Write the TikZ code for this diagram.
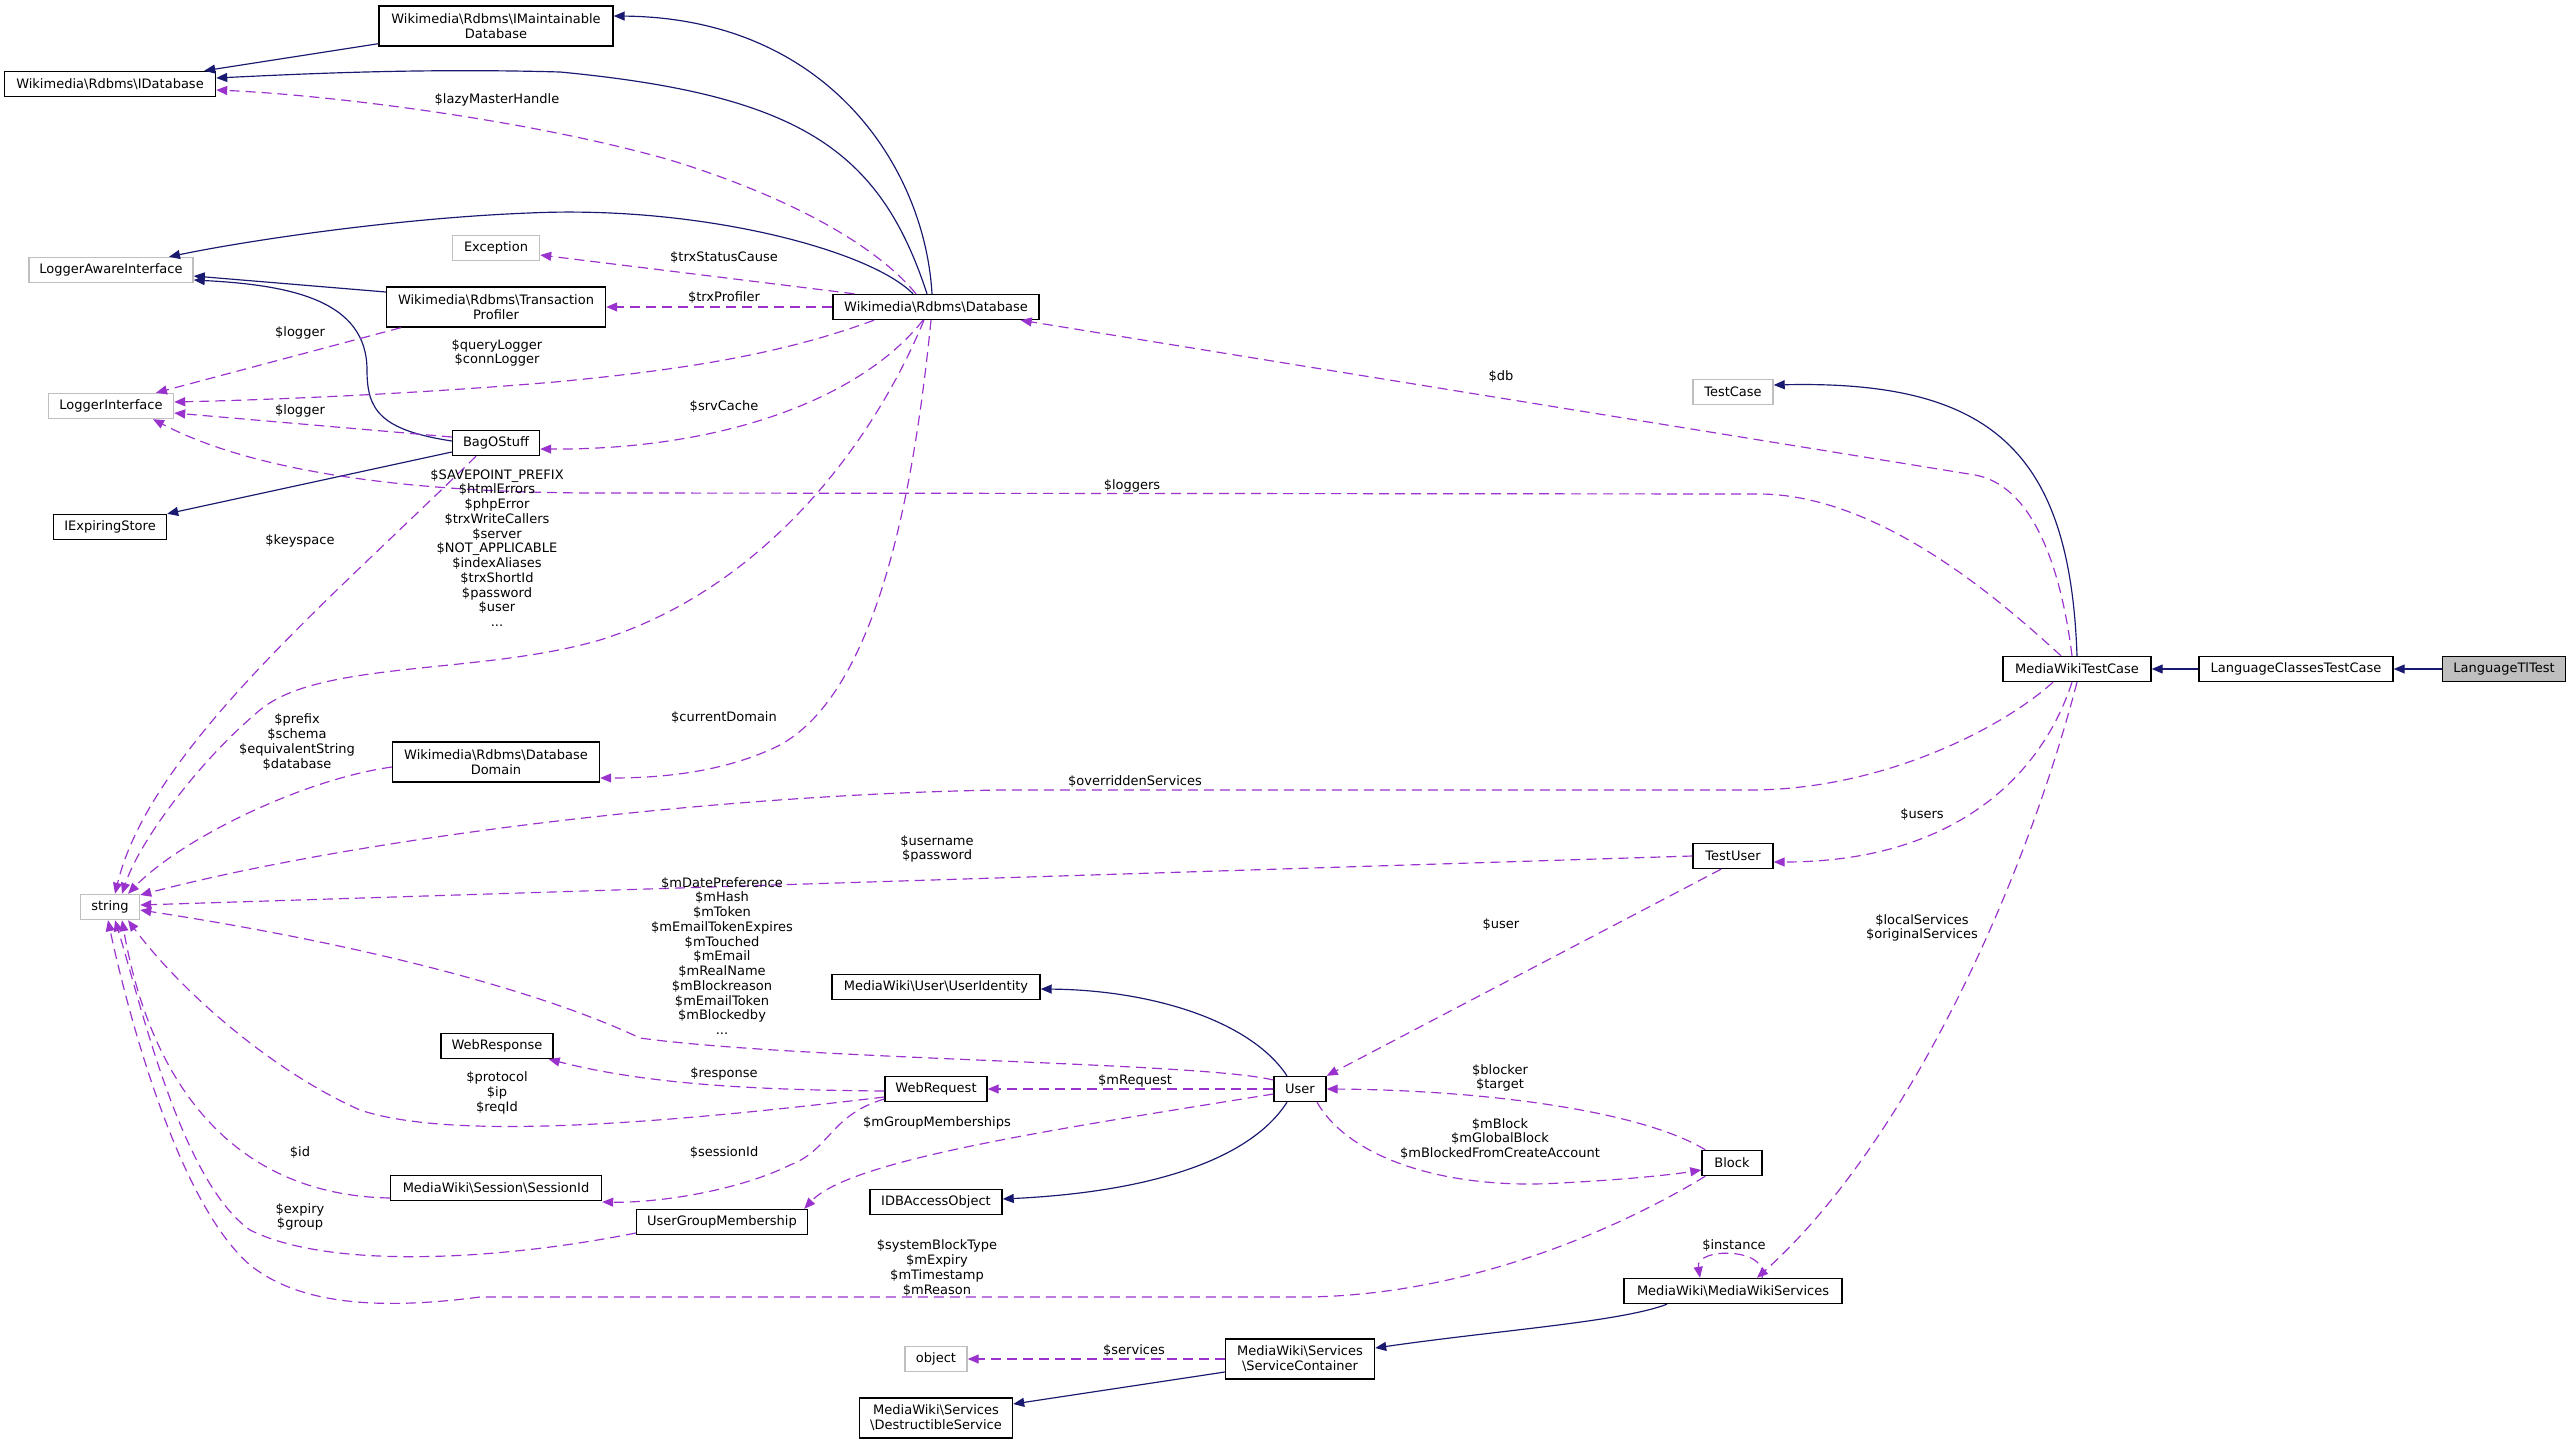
\documentclass[tikz,border=0pt]{standalone}
\usepackage{fontspec}
\setmainfont{DejaVu Sans}
\usetikzlibrary{arrows.meta}
\definecolor{inhblue}{HTML}{191970}
\definecolor{depviolet}{HTML}{9A32CD}
\definecolor{extgray}{HTML}{BFBFBF}
\newcommand{\bsl}{\textbackslash}

\begin{document}
\begin{tikzpicture}[x=0.3mm, y=-0.3mm,
    font=\fontsize{11.1}{12.6}\selectfont,
    cls/.style={draw=black, line width=1.2pt, fill=white, align=center,
      inner xsep=1mm, inner ysep=0pt, minimum height=7.5mm},
    clstwo/.style={cls, minimum height=12mm},
    ext/.style={cls, draw=extgray},
    cur/.style={cls, fill=extgray},
    inh/.style={-{Triangle[length=3.3mm, width=2.7mm]}, line width=1pt, draw=inhblue},
    dep/.style={-{Triangle[length=3.3mm, width=2.7mm]}, line width=1pt, draw=depviolet,
      dash pattern=on 3mm off 1.8mm},
    lab/.style={inner sep=0pt, align=center}]

  \fill[white] (0,0) rectangle (2571,1444);
  \useasboundingbox (0,0) rectangle (2571,1444);

% ---------------- classes (centres in pixels of the full drawing)
  \node[clstwo, minimum width=70.2mm] (imdb) at (496,26) {Wikimedia\bsl Rdbms\bsl IMaintainable\\Database};
  \node[cls, minimum width=63.3mm] (idb) at (110,84) {Wikimedia\bsl Rdbms\bsl IDatabase};
  \node[ext, minimum width=49.2mm] (lai) at (111,270) {LoggerAwareInterface};
  \node[ext, minimum width=26.1mm] (exc) at (496,248) {Exception};
  \node[clstwo, minimum width=65.7mm] (trxp) at (496,307) {Wikimedia\bsl Rdbms\bsl Transaction\\Profiler};
  \node[cls, minimum width=61.8mm] (dbase) at (936,307) {Wikimedia\bsl Rdbms\bsl Database};
  \node[ext, minimum width=37.5mm] (logi) at (111,406) {LoggerInterface};
  \node[cls, minimum width=26.1mm] (bag) at (496,443) {BagOStuff};
  \node[cls, minimum width=33.9mm] (iexp) at (110,527) {IExpiringStore};
  \node[clstwo, minimum width=62.1mm] (ddom) at (496,762) {Wikimedia\bsl Rdbms\bsl Database\\Domain};
  \node[ext, minimum width=17.7mm] (str) at (110,907) {string};
  \node[ext, minimum width=24mm] (tcase) at (1733,392) {TestCase};
  \node[cls, minimum width=44.4mm] (mwtc) at (2077,669) {MediaWikiTestCase};
  \node[cls, minimum width=58.2mm] (lctc) at (2296,669) {LanguageClassesTestCase};
  \node[cur, minimum width=36.9mm] (ltl) at (2504,669) {LanguageTlTest};
  \node[cls, minimum width=24mm] (tuser) at (1733,856) {TestUser};
  \node[cls, minimum width=62.4mm] (uid) at (936,987) {MediaWiki\bsl User\bsl UserIdentity};
  \node[cls, minimum width=15.6mm] (user) at (1300,1089) {User};
  \node[cls, minimum width=30.6mm] (wreq) at (936,1089) {WebRequest};
  \node[cls, minimum width=33.6mm] (wresp) at (497,1046) {WebResponse};
  \node[cls, minimum width=63.3mm] (sid) at (496,1188) {MediaWiki\bsl Session\bsl SessionId};
  \node[cls, minimum width=51.3mm] (ugm) at (722,1222) {UserGroupMembership};
  \node[cls, minimum width=39.6mm] (idba) at (936,1202) {IDBAccessObject};
  \node[cls, minimum width=18mm] (block) at (1732,1163) {Block};
  \node[cls, minimum width=65.4mm] (mws) at (1733,1291) {MediaWiki\bsl MediaWikiServices};
  \node[clstwo, minimum width=44.7mm] (scont) at (1300,1359) {MediaWiki\bsl Services\\\bsl ServiceContainer};
  \node[ext, minimum width=18.6mm] (obj) at (936,1359) {object};
  \node[clstwo, minimum width=45.9mm] (dserv) at (936,1418) {MediaWiki\bsl Services\\\bsl DestructibleService};

% ---------------- inheritance, solid
  \draw[inh] ([yshift=0.9mm]imdb.south west) -- ([xshift=-3.6mm]idb.north east);
  \draw[inh] ([xshift=-1.2mm]dbase.north) .. controls (925,170) and (830,18) .. ([yshift=3mm]imdb.east);
  \draw[inh] ([xshift=-2.7mm]dbase.north) .. controls (880,150) and (800,95) .. (560,72)
    .. controls (420,68) and (300,74) .. ([yshift=1.8mm]idb.east);
  \draw[inh] ([xshift=-6.9mm]dbase.north) .. controls (870,250) and (700,205) .. (529,213)
    .. controls (400,218) and (250,240) .. ([xshift=17.4mm]lai.north);
  \draw[inh] ([yshift=4.5mm]trxp.west) -- ([yshift=-1.8mm]lai.east);
  \draw[inh] ([yshift=0.6mm]bag.west) .. controls (380,430) and (367,410) .. (367,370)
    .. controls (367,300) and (290,285) .. ([yshift=-3mm]lai.east);
  \draw[inh] ([yshift=-2.7mm]bag.west) -- (iexp.north east);
  \draw[inh] (mwtc.north) .. controls (2070,450) and (1990,380) .. ([yshift=2.1mm]tcase.east);
  \draw[inh] (lctc.west) -- (mwtc.east);
  \draw[inh] (ltl.west) -- (lctc.east);
  \draw[inh] ([xshift=-3.9mm]user.north) .. controls (1250,1020) and (1150,990) .. ([yshift=-0.6mm]uid.east);
  \draw[inh] ([xshift=-3.9mm]user.south) .. controls (1250,1160) and (1150,1192) .. ([yshift=0.9mm]idba.east);
  \draw[inh] ([xshift=-19.8mm]mws.south) .. controls (1620,1322) and (1500,1330) .. ([yshift=3.3mm]scont.east);
  \draw[inh] ([yshift=-3.9mm]scont.west) -- ([yshift=4.2mm]dserv.east);

% ---------------- members, dashed
  \draw[dep] ([xshift=-6mm]dbase.north) .. controls (880,250) and (800,200) .. (670,160)
    .. controls (530,120) and (330,95) .. ([yshift=-1.8mm]idb.east);
  \draw[dep] ([xshift=6.6mm]dbase.north west) -- ([yshift=-2.1mm]exc.east);
  \draw[dep] (dbase.west) -- (trxp.east);
  \draw[dep] ([xshift=4.5mm]trxp.south west) -- ([xshift=13.5mm]logi.north);
  \draw[dep] ([xshift=-18.6mm]dbase.south) .. controls (780,355) and (680,370) .. (555,382)
    .. controls (400,395) and (260,400) .. ([yshift=1.2mm]logi.east);
  \draw[dep] ([yshift=1.8mm]bag.west) -- ([yshift=-2.1mm]logi.east);
  \draw[dep] ([xshift=-3.9mm]dbase.south) .. controls (860,400) and (720,450) .. ([yshift=-1.8mm]bag.east);
  \draw[dep] ([xshift=-4.8mm]mwtc.north) .. controls (2000,600) and (1880,495) .. (1760,494)
    -- (600,493) .. controls (400,493) and (250,470) .. ([xshift=12.6mm]logi.south);
  \draw[dep] ([xshift=-3.6mm]dbase.south) .. controls (870,450) and (760,590) .. (600,640)
    .. controls (480,675) and (320,660) .. (260,710)
    .. controls (200,760) and (140,840) .. ([xshift=3.6mm]str.north);
  \draw[dep] ([xshift=-6mm]bag.south) .. controls (330,600) and (150,750) .. ([xshift=1.5mm]str.north);
  \draw[dep] ([xshift=-1.5mm]dbase.south) .. controls (915,480) and (880,690) .. (780,745)
    .. controls (720,775) and (650,778) .. ([yshift=-4.8mm]ddom.east);
  \draw[dep] ([yshift=-1.5mm]ddom.west) .. controls (300,780) and (180,840) .. ([xshift=5.4mm]str.north);
  \draw[dep] ([xshift=-7.2mm]mwtc.south) .. controls (2000,730) and (1880,790) .. (1750,790)
    -- (1000,790) .. controls (700,795) and (350,840) .. ([yshift=3.6mm]str.east);
  \draw[dep] ([xshift=-1.5mm]mwtc.north) .. controls (2060,560) and (2030,485) .. (1975,475)
    -- ([xshift=-5.7mm]dbase.south east);
  \draw[dep] ([xshift=-1.5mm]mwtc.south) .. controls (2040,780) and (1950,862) .. ([yshift=-1.8mm]tuser.east);
  \draw[dep] (mwtc.south) .. controls (2020,900) and (1900,1150) .. ([xshift=7.2mm]mws.north);
  \draw[dep] (tuser.west) -- ([yshift=0.6mm]str.east);
  \draw[dep] ([xshift=-3.6mm]tuser.south) -- (user.north east);
  \draw[dep] ([yshift=2.7mm]user.west) .. controls (1200,1062) and (800,1060) .. (640,1038)
    .. controls (560,1000) and (400,950) .. ([yshift=-0.9mm]str.east);
  \draw[dep] (user.west) -- (wreq.east);
  \draw[dep] ([yshift=-0.6mm]wreq.west) .. controls (760,1090) and (650,1085) .. ([xshift=-1.5mm]wresp.south east);
  \draw[dep] ([yshift=-2.4mm]wreq.west) .. controls (650,1125) and (450,1140) .. (360,1110)
    .. controls (270,1070) and (180,990) .. ([xshift=5.4mm]str.south);
  \draw[dep] ([yshift=-3mm]wreq.west) .. controls (830,1115) and (830,1150) .. (790,1165)
    .. controls (740,1190) and (660,1203) .. ([yshift=-4.2mm]sid.east);
  \draw[dep] ([yshift=-3mm]sid.west) .. controls (230,1195) and (150,1080) .. ([xshift=3.6mm]str.south);
  \draw[dep] ([yshift=-1.5mm]user.west) .. controls (1050,1130) and (850,1160) .. ([xshift=-1.2mm]ugm.north east);
  \draw[dep] ([yshift=-3.3mm]ugm.west) .. controls (500,1260) and (330,1270) .. (250,1230)
    .. controls (180,1180) and (140,1000) .. ([xshift=1.5mm]str.south);
  \draw[dep] ([xshift=1.2mm]block.north west) .. controls (1640,1110) and (1480,1090) .. (user.east);
  \draw[dep] ([xshift=5.1mm]user.south) .. controls (1350,1160) and (1450,1190) .. (1560,1183)
    .. controls (1620,1180) and (1670,1175) .. ([yshift=-2.1mm]block.west);
  \draw[dep] ([xshift=1.2mm]block.south west) .. controls (1600,1240) and (1450,1297) .. (1300,1297)
    -- (480,1297) .. controls (380,1310) and (300,1305) .. (250,1265)
    .. controls (175,1200) and (125,1000) .. ([xshift=-0.6mm]str.south);
  \draw[dep] ([xshift=8.7mm]mws.north) .. controls (1770,1247) and (1695,1247) .. ([xshift=-9.9mm]mws.north);
  \draw[dep] (scont.west) -- (obj.east);

% ---------------- member names
  \node[lab] (l-lazy) at (497,100) {\$lazyMasterHandle};
  \node[lab] (l-trxsc) at (724,258) {\$trxStatusCause};
  \node[lab] (l-trxp) at (724,298) {\$trxProfiler};
  \node[lab] (l-logtp) at (300,333) {\$logger};
  \node[lab] (l-qlog) at (497,353) {\$queryLogger\\\$connLogger};
  \node[lab] (l-logbag) at (300,411) {\$logger};
  \node[lab] (l-srvc) at (724,407) {\$srvCache};
  \node[lab] (l-loggers) at (1132,486) {\$loggers};
  \node[lab] (l-savept) at (497,548) {\$SAVEPOINT\_PREFIX\\\$htmlErrors\\\$phpError\\\$trxWriteCallers\\\$server\\\$NOT\_APPLICABLE\\\$indexAliases\\\$trxShortId\\\$password\\\$user\\...};
  \node[lab] (l-keysp) at (300,541) {\$keyspace};
  \node[lab] (l-curdom) at (724,718) {\$currentDomain};
  \node[lab] (l-prefix) at (297,742) {\$prefix\\\$schema\\\$equivalentString\\\$database};
  \node[lab] (l-overr) at (1135,782) {\$overriddenServices};
  \node[lab] (l-db) at (1501,377) {\$db};
  \node[lab] (l-users) at (1922,815) {\$users};
  \node[lab] (l-locs) at (1922,928) {\$localServices\\\$originalServices};
  \node[lab] (l-uname) at (937,849) {\$username\\\$password};
  \node[lab] (l-tuser) at (1501,925) {\$user};
  \node[lab] (l-mdate) at (722,956) {\$mDatePreference\\\$mHash\\\$mToken\\\$mEmailTokenExpires\\\$mTouched\\\$mEmail\\\$mRealName\\\$mBlockreason\\\$mEmailToken\\\$mBlockedby\\...};
  \node[lab] (l-mreq) at (1135,1081) {\$mRequest};
  \node[lab] (l-resp) at (724,1074) {\$response};
  \node[lab] (l-proto) at (497,1093) {\$protocol\\\$ip\\\$reqId};
  \node[lab] (l-sessid) at (724,1153) {\$sessionId};
  \node[lab] (l-id) at (300,1153) {\$id};
  \node[lab] (l-mgroup) at (937,1123) {\$mGroupMemberships};
  \node[lab] (l-expiry) at (300,1217) {\$expiry\\\$group};
  \node[lab] (l-blocker) at (1500,1078) {\$blocker\\\$target};
  \node[lab] (l-mblock) at (1500,1139) {\$mBlock\\\$mGlobalBlock\\\$mBlockedFromCreateAccount};
  \node[lab] (l-sysblock) at (937,1268) {\$systemBlockType\\\$mExpiry\\\$mTimestamp\\\$mReason};
  \node[lab] (l-inst) at (1734,1246) {\$instance};
  \node[lab] (l-serv) at (1134,1351) {\$services};
\end{tikzpicture}
\end{document}
